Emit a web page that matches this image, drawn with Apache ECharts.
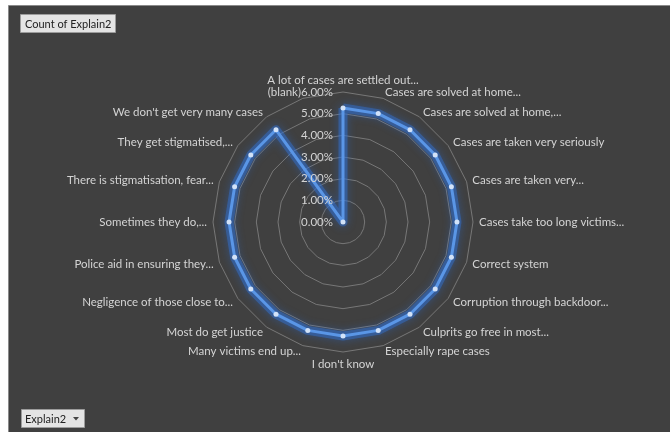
<!DOCTYPE html>
<html>
<head>
<meta charset="utf-8">
<script src="https://cdn.jsdelivr.net/npm/echarts@6/dist/echarts.min.js"></script>
<style>
  html, body { margin: 0; padding: 0; background: #ffffff; }
  #chart { width: 670px; height: 432px; }
</style>
</head>
<body>
<div id="chart"></div>
<script>
// Response categories (Explain2), clockwise from the top
const categories = [
  'A lot of cases are settled out...',
  'Cases are solved at home...',
  'Cases are solved at home,...',
  'Cases are taken very seriously',
  'Cases are taken very...',
  'Cases take too long victims...',
  'Correct system',
  'Corruption through backdoor...',
  'Culprits go free in most...',
  'Especially rape cases',
  "I don't know",
  'Many victims end up...',
  'Most do get justice',
  'Negligence of those close to...',
  'Police aid in ensuring they...',
  'Sometimes they do,...',
  'There is stigmatisation, fear...',
  'They get stigmatised,...',
  "We don't get very many cases",
  '(blank)'
];

// Count of Explain2 as share of total
const shareValues = [
  0.0526, 0.0526, 0.0526, 0.0526, 0.0526,
  0.0526, 0.0526, 0.0526, 0.0526, 0.0526,
  0.0526, 0.0526, 0.0526, 0.0526, 0.0526,
  0.0526, 0.0526, 0.0526, 0.0526, 0.0
];

// Value axis ticks
const axisMin = 0;
const axisMax = 0.06;
const axisStep = 0.01;

const seriesName = 'Total';
const titleButton = 'Count of Explain2';
const fieldButton = 'Explain2';

// ECharts lays radar axes counter-clockwise, so keep the first item
// on top and walk the rest in reverse to read clockwise.
const order = [0];
for (let i = categories.length - 1; i >= 1; i--) order.push(i);
const indicators = order.map(i => ({ name: categories[i], min: axisMin, max: axisMax }));
const radarValues = order.map(i => shareValues[i]);

const FONT = 'Lato, "Open Sans", sans-serif';
const LABEL_SIZE = 11.5;
const cx = 343, cy = 222, R = 130;

const chart = echarts.init(document.getElementById('chart'), null, { renderer: 'canvas' });

chart.setOption({
  backgroundColor: '#ffffff',
  animation: false,
  graphic: [
    {
      type: 'rect', z: -10, silent: true,
      shape: { x: 8.5, y: 5.5, width: 670, height: 440 },
      style: { fill: '#404040', stroke: '#8a8a8a', lineWidth: 1 }
    },
    {
      type: 'group', left: 20, top: 14,
      children: [
        { type: 'rect', shape: { x: 0.5, y: 0.5, width: 95, height: 18 },
          style: { fill: '#e4e4e4', stroke: '#9c9c9c', lineWidth: 1 } },
        { type: 'text', x: 5, y: 10,
          style: { text: titleButton, fill: '#222222', font: '11px ' + FONT, verticalAlign: 'middle' } }
      ]
    },
    {
      type: 'group', left: 21, top: 409,
      children: [
        { type: 'rect', shape: { x: 0.5, y: 0.5, width: 63, height: 18 },
          style: { fill: '#e4e4e4', stroke: '#9c9c9c', lineWidth: 1 } },
        { type: 'text', x: 4, y: 10,
          style: { text: fieldButton, fill: '#222222', font: '11px ' + FONT, verticalAlign: 'middle' } },
        { type: 'polygon', shape: { points: [[52, 8], [58, 8], [55, 11.5]] },
          style: { fill: '#444444' } }
      ]
    }
  ],
  grid: {
    left: cx, top: cy - R, width: 1, height: R, containLabel: false
  },
  xAxis: { type: 'value', show: false },
  yAxis: {
    type: 'value',
    z: 20,
    min: axisMin, max: axisMax, interval: axisStep,
    axisLine: { show: false },
    axisTick: { show: false },
    splitLine: { show: false },
    axisLabel: {
      margin: 10,
      color: '#d4d4d4',
      fontFamily: FONT,
      fontSize: LABEL_SIZE,
      formatter: v => (v * 100).toFixed(2) + '%'
    }
  },
  radar: {
    center: [cx, cy],
    radius: R,
    startAngle: 90,
    shape: 'polygon',
    splitNumber: 6,
    indicator: indicators,
    nameGap: 6,
    axisName: {
      color: '#d4d4d4',
      fontFamily: FONT,
      fontSize: LABEL_SIZE
    },
    axisLine: { show: false },
    axisTick: { show: false },
    axisLabel: { show: false },
    splitArea: { show: false },
    splitLine: { lineStyle: { color: '#777777', width: 1 } }
  },
  series: [
    {
      // soft glow band beneath the line
      name: seriesName,
      type: 'radar',
      z: 4,
      silent: true,
      symbol: 'none',
      lineStyle: {
        color: 'rgba(50, 115, 215, 0.45)',
        width: 9,
        shadowColor: 'rgba(40, 110, 225, 0.8)',
        shadowBlur: 8
      },
      data: [{ value: radarValues, name: seriesName }]
    },
    {
      name: seriesName,
      type: 'radar',
      z: 5,
      symbol: 'circle',
      symbolSize: 5,
      lineStyle: {
        color: '#5a96e6',
        width: 3
      },
      itemStyle: { color: '#d2e2f8', borderWidth: 0 },
      data: [{ value: radarValues, name: seriesName }]
    }
  ]
});
</script>
</body>
</html>
